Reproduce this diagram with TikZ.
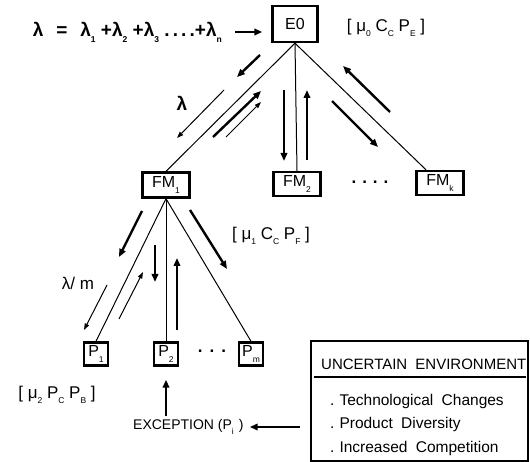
\documentclass[tikz,border=0pt]{standalone}
\usepackage{fontspec}
\setmainfont{Liberation Sans}
\usetikzlibrary{arrows.meta,calc}
\newcommand\lowsub[1]{\raisebox{-0.6ex}{\fontsize{8.5}{8.5}\selectfont #1}}
\begin{document}
\begin{tikzpicture}[x=1pt,y=-1pt,
  box/.style={draw,line width=2.4pt,inner sep=0pt,font=\fontsize{16}{16}\selectfont},
  conn/.style={line width=1pt},
  thk/.style={line width=2.4pt,-{Triangle[length=8pt,width=6.5pt]}},
  thn/.style={line width=1pt,-{Triangle[length=6.5pt,width=4.5pt]}},
  lbl/.style={inner sep=0pt,font=\fontsize{17}{17}\selectfont},
  blbl/.style={inner sep=0pt,font=\fontsize{19}{19}\selectfont\bfseries},
  envtxt/.style={inner sep=0pt,font=\fontsize{15}{15}\selectfont}]
\useasboundingbox[fill=white] (0,0) rectangle (530,462);

% boxes
\node[box,minimum width=45pt,minimum height=36pt] (E0) at (295,24) {E0};
\node[box,minimum width=47pt,minimum height=25pt] (FM1) at (166,185) {FM\lowsub{1}};
\node[box,minimum width=47pt,minimum height=24pt] (FM2) at (297,184) {FM\lowsub{2}};
\node[box,minimum width=47pt,minimum height=24pt] (FMk) at (440,183) {FM\lowsub{k}};
\node[box,minimum width=24pt,minimum height=23pt] (P1) at (96,354) {P\lowsub{1}};
\node[box,minimum width=24pt,minimum height=23pt] (P2) at (166,354) {P\lowsub{2}};
\node[box,minimum width=24pt,minimum height=23pt] (Pm) at (251,354) {P\lowsub{m}};
\node[lbl,font=\fontsize{17}{17}\selectfont\bfseries] (dots1) at (370,182) {.\hspace{6pt}.\hspace{6pt}.\hspace{6pt}.};
\node[lbl,font=\fontsize{17}{17}\selectfont\bfseries] (dots2) at (212,351) {.\hspace{7pt}.\hspace{7pt}.};

% tree connectors
\draw[conn] (E0.south) -- (FM1.north);
\draw[conn] (E0.south) -- (FM2.north);
\draw[conn] (E0.south) -- ([xshift=-14pt]FMk.north);
\draw[conn] (FM1.south) -- (P1.north);
\draw[conn] (FM1.south) -- (P2.north);
\draw[conn] (FM1.south) -- (Pm.north);

% labels
\node[blbl,anchor=east] (eq) at (222,32) {λ\hspace{13pt}=\hspace{13pt}λ\lowsub{1} +λ\lowsub{2} +λ\lowsub{3} .\,.\,.\,.+λ\lowsub{n}};
\draw[thk] (eq.east) ++(13,0) coordinate (eqa) -- ([xshift=-9pt]E0.west |- eqa);
\node[lbl] (mu0) at (386,28) {[ μ\lowsub{0} C\lowsub{C} P\lowsub{E} ]};
\node[blbl] (lam) at (182,103) {λ};
\node[lbl] (mu1) at (271,236) {[ μ\lowsub{1} C\lowsub{C} P\lowsub{F} ]};
\node[lbl] (lamm) at (78,283) {λ/ m};
\node[lbl] (mu2) at (57,395) {[ μ\lowsub{2} P\lowsub{C} P\lowsub{B} ]};
\node[inner sep=0pt,font=\fontsize{14}{14}\selectfont,anchor=west] (exc) at (133,427) {EXCEPTION (P\lowsub{i}\hspace{5pt})};

% environment box
\node[draw,line width=1.3pt,minimum width=217pt,minimum height=120pt,inner sep=0pt] (env) at (419.5,401) {};
\node[envtxt,anchor=west] (envt) at (321,364) {UNCERTAIN\hspace{4pt} ENVIRONMENT};
\draw[line width=1.8pt] ([xshift=4pt]env.west |- 0,377) -- ([xshift=-3pt]env.east |- 0,377);
\node[envtxt,font=\fontsize{15.5}{15.5}\selectfont,anchor=west] (it1) at (330,401) {.\hspace{5pt}Technological\hspace{4pt} Changes};
\node[envtxt,font=\fontsize{15.5}{15.5}\selectfont,anchor=west] (it2) at (330,424) {.\hspace{5pt}Product\hspace{4pt} Diversity};
\node[envtxt,font=\fontsize{15.5}{15.5}\selectfont,anchor=west] (it3) at (330,448) {.\hspace{5pt}Increased\hspace{4pt} Competition};

\draw[thk] ([xshift=-10pt]env.west |- exc.east) -- ([xshift=6pt]exc.east);
\draw[thk] (P2.south |- 0,416) -- ([yshift=-13pt]P2.south);

% E0 level arrows
\draw[thk] (260,55) -- (237,77);
\draw[thn] (224,90) -- (177,138);
\draw[thk] (213,137) -- (261,91);
\draw[thn] (226,137) -- (261,102);
\draw[thk] (284,90) -- (284,161);
\draw[thk] (307,160) -- (307,90);
\draw[thk] (390,112) -- (343,66);
\draw[thk] (332,101) -- (378,147);

% FM1 level arrows
\draw[thk] (142,211) -- (119,257);
\draw[thn] (107,285) -- (84,330);
\draw[thn] (119,319) -- (143,272);
\draw[thk] (155,245) -- (155,282);
\draw[thk] (177,330) -- (177,258);
\draw[thk] (190,210) -- (227,269);
\end{tikzpicture}
\end{document}
